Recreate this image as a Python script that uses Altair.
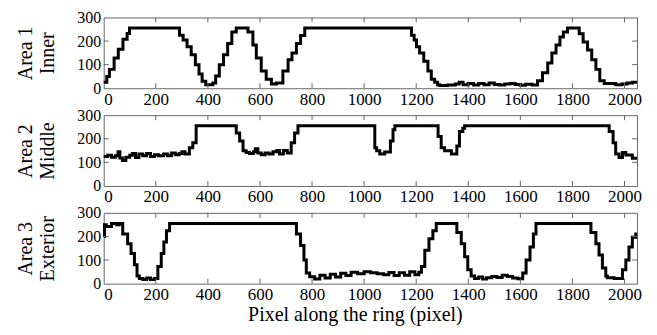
import altair as alt
import pandas as pd

# ---------------- data ----------------
x_tick_values = [0, 200, 400, 600, 800, 1000, 1200, 1400, 1600, 1800, 2000]
y_tick_values = [0, 100, 200, 300]
inner_x_ticks = [200, 400, 600, 800, 1000, 1200, 1400, 1600, 1800, 2000]
inner_y_ticks = [100, 200]

area1_x = [0, 12, 22, 40, 56, 74, 90, 99, 291, 305, 320, 336, 352, 366, 378, 392, 419, 430,
           444, 460, 476, 492, 509, 554, 573, 586, 605, 624, 644, 663, 688, 708, 723, 740,
           756, 772, 1182, 1192, 1201, 1213, 1229, 1245, 1258, 1271, 1282, 1290, 1320, 1350,
           1365, 1380, 1400, 1420, 1440, 1460, 1480, 1500, 1520, 1540, 1560, 1580, 1600,
           1620, 1645, 1666, 1685, 1705, 1721, 1737, 1752, 1765, 1781, 1826, 1841, 1858,
           1874, 1890, 1905, 1922, 1966, 1990, 2010, 2030, 2048]
area1_y = [25, 50, 80, 128, 165, 208, 232, 255, 225, 204, 176, 142, 100, 60, 30, 15, 22, 52,
           100, 142, 190, 238, 255, 238, 183, 128, 73, 38, 18, 22, 73, 121, 149, 190,
           224, 255, 225, 204, 176, 149, 114, 73, 38, 25, 15, 12, 14, 18,
           25, 15, 20, 14, 20, 15, 22, 16, 14, 18, 20, 16, 13,
           17, 14, 32, 66, 107, 149, 183, 217, 238, 255, 231, 196, 162,
           121, 80, 32, 20, 15, 18, 22, 25, 25]

area2_x = [0, 15, 30, 45, 55, 62, 72, 85, 100, 110, 122, 135, 150, 165, 180, 195, 210, 230,
           245, 260, 275, 290, 300, 312, 329, 342, 355, 509, 522, 535, 547, 560, 575, 582,
           592, 605, 620, 635, 650, 665, 675, 690, 705, 720, 733, 746, 1041, 1048, 1060,
           1079, 1101, 1111, 1118, 1284, 1296, 1309, 1335, 1356, 1366, 1379, 1386, 1941,
           1956, 1966, 1979, 1992, 2005, 2030, 2048]
area2_y = [125, 130, 122, 128, 145, 118, 108, 122, 130, 138, 120, 135, 128, 138, 125, 132, 128, 135,
           128, 140, 132, 138, 145, 135, 162, 183, 255, 224, 190, 149, 142, 138, 145, 158,
           140, 132, 140, 135, 145, 150, 135, 150, 140, 183, 224, 255, 162, 149, 135,
           144, 190, 238, 255, 210, 162, 149, 135, 169, 231, 245, 255, 231,
           183, 135, 121, 142, 131, 117, 117]

area3_x = [0, 3, 10, 30, 50, 60, 73, 92, 105, 118, 128, 137, 150, 165, 180, 195, 208, 221,
           231, 241, 253, 740, 756, 769, 778, 791, 810, 830, 850, 870, 890, 910, 930,
           950, 975, 1000, 1025, 1050, 1075, 1095, 1115, 1135, 1155, 1175, 1195, 1210,
           1220, 1233, 1249,
           1264, 1277, 1356, 1373, 1386, 1398, 1411, 1424, 1440, 1455, 1470, 1490, 1510,
           1530, 1550, 1570, 1590, 1609, 1622, 1637, 1650, 1660, 1871, 1890, 1902, 1915,
           1928, 1934, 1960, 1992, 2005, 2017, 2030, 2043, 2048]
area3_y = [200, 250, 242, 255, 250, 255, 210, 169, 128, 80, 32, 22, 18, 24, 17, 22, 73, 128,
           176, 224, 255, 210, 162, 100, 45, 29, 20, 36, 24, 40, 28, 44, 34,
           48, 42, 50, 46, 42, 38, 47, 34, 46, 36, 50, 38, 48,
           73, 142, 190,
           224, 255, 217, 169, 114, 59, 32, 22, 28, 20, 25, 30, 26,
           36, 30, 24, 21, 45, 100, 155, 210, 255, 217, 169, 121, 66,
           32, 25, 22, 59, 100, 155, 197, 210, 210]

panels = [
    (area1_x, area1_y, ["Area 1", "Inner"]),
    (area2_x, area2_y, ["Area 2", "Middle"]),
    (area3_x, area3_y, ["Area 3", "Exterior"]),
]

# ---------------- styling ----------------
W, H = 535, 71
FONT = "Liberation Serif"
FRAME = "#666666"
TICK_LEN = 5

xscale = alt.Scale(domain=[0, 2048], nice=False, zero=False)
yscale = alt.Scale(domain=[0, 300], nice=False)

xt_df = pd.DataFrame({"t": inner_x_ticks})
yt_df = pd.DataFrame({"t": inner_y_ticks})


def make_panel(xs, ys, ytitle, last):
    df = pd.DataFrame({"x": xs, "y": ys})
    xaxis_kwargs = dict(values=x_tick_values, ticks=False, domain=False, grid=False,
                        labelPadding=3, labelFontSize=17, labelFont=FONT, labelColor="black",
                        labelOverlap=False, format="d")
    if last:
        xaxis = alt.Axis(title="Pixel along the ring (pixel)", titleFont=FONT, titleFontSize=20,
                         titleFontWeight="normal", titleColor="black", titlePadding=2,
                         titleX=252, **xaxis_kwargs)
    else:
        xaxis = alt.Axis(title=None, **xaxis_kwargs)
    yaxis = alt.Axis(values=y_tick_values, ticks=False, domain=False, grid=False,
                     labelPadding=3, labelFontSize=16, labelFont=FONT, labelColor="black",
                     labelOverlap=False, format="d",
                     title=ytitle, titleFont=FONT, titleFontSize=20, titleFontWeight="normal",
                     titleColor="black", titlePadding=19, titleLineHeight=22)

    line = alt.Chart(df).mark_line(interpolate="step-after", color="black", strokeWidth=3).encode(
        x=alt.X("x:Q", scale=xscale, axis=xaxis),
        y=alt.Y("y:Q", scale=yscale, axis=yaxis),
    )
    top_ticks = alt.Chart(xt_df).mark_rule(color=FRAME, strokeWidth=1).encode(
        x=alt.X("t:Q", scale=xscale, axis=xaxis), y=alt.value(0), y2=alt.value(TICK_LEN))
    bot_ticks = alt.Chart(xt_df).mark_rule(color=FRAME, strokeWidth=1).encode(
        x=alt.X("t:Q", scale=xscale, axis=xaxis), y=alt.value(H - TICK_LEN), y2=alt.value(H))
    left_ticks = alt.Chart(yt_df).mark_rule(color=FRAME, strokeWidth=1).encode(
        y=alt.Y("t:Q", scale=yscale, axis=yaxis), x=alt.value(0), x2=alt.value(TICK_LEN))
    right_ticks = alt.Chart(yt_df).mark_rule(color=FRAME, strokeWidth=1).encode(
        y=alt.Y("t:Q", scale=yscale, axis=yaxis), x=alt.value(W - TICK_LEN), x2=alt.value(W))
    return alt.layer(line, top_ticks, bot_ticks, left_ticks, right_ticks).properties(
        width=W, height=H)


charts = [make_panel(xs, ys, t, i == len(panels) - 1) for i, (xs, ys, t) in enumerate(panels)]

chart = alt.vconcat(*charts, spacing=27, bounds="flush").properties(
    padding={"left": 7, "top": 0, "right": 5, "bottom": 0},
    background="white",
).configure_view(stroke=FRAME, strokeWidth=1)

chart.save("out.html", embed_options={"renderer": "svg", "actions": False})
